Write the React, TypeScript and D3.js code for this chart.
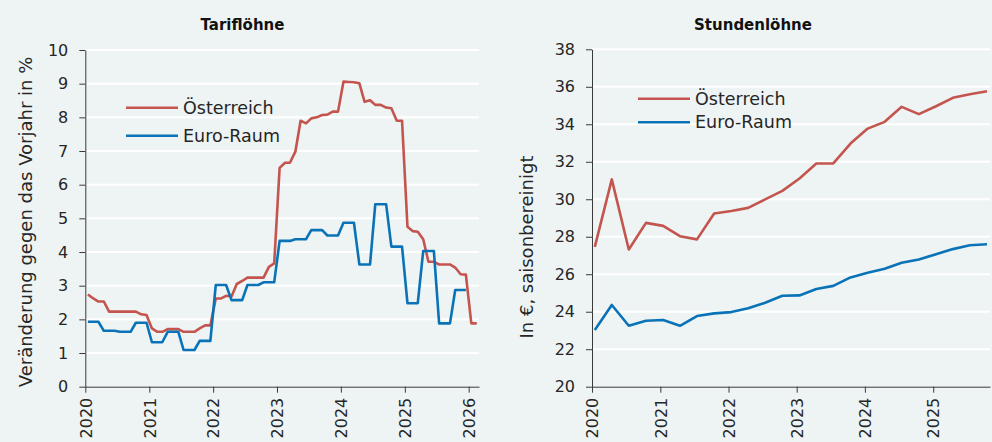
import React, { useEffect, useRef } from 'react';
import * as d3 from 'd3';

// Tariflöhne, Veränderung gegen das Vorjahr in %, monatlich ab Jänner 2020
const tarifAT = [
  2.74, 2.62, 2.53, 2.53, 2.23, 2.23, 2.23, 2.23, 2.23, 2.23, 2.15, 2.13,
  1.73, 1.63, 1.63, 1.71, 1.71, 1.71, 1.63, 1.63, 1.63, 1.73, 1.82, 1.82,
  2.62, 2.62, 2.70, 2.68, 3.05, 3.14, 3.24, 3.24, 3.24, 3.24, 3.56, 3.66,
  6.50, 6.65, 6.65, 6.98, 7.90, 7.82, 7.97, 8.00, 8.07, 8.08, 8.17, 8.17,
  9.06, 9.05, 9.04, 9.01, 8.46, 8.51, 8.37, 8.37, 8.29, 8.27, 7.90, 7.90,
  4.75, 4.62, 4.60, 4.38, 3.71, 3.71, 3.63, 3.63, 3.63, 3.54, 3.34, 3.33,
  1.88, 1.88,
];
// Euro-Raum, quartalsweise (wird je 3 Monate gehalten)
const tarifEA = [
  1.93, 1.66, 1.63, 1.90,
  1.32, 1.63, 1.09, 1.36,
  3.02, 2.57, 3.02, 3.10,
  4.33, 4.38, 4.65, 4.49,
  4.87, 3.63, 5.42, 4.16,
  2.48, 4.03, 1.88, 2.87,
];
const tarifTicks = [0, 1, 2, 3, 4, 5, 6, 7, 8, 9, 10];

// Stundenlöhne in €, saisonbereinigt, Quartale 2020Q1-2025Q4
const stundeAT = [
  27.46, 31.06, 27.32, 28.74, 28.58, 28.03, 27.86, 29.24, 29.37, 29.54, 29.99, 30.45,
  31.11, 31.91, 31.91, 32.97, 33.77, 34.13, 34.93, 34.54, 34.96, 35.41, 35.60, 35.76,
];
const stundeEA = [
  23.02, 24.36, 23.25, 23.52, 23.56, 23.25, 23.77, 23.91, 23.98, 24.18, 24.48, 24.85,
  24.87, 25.21, 25.38, 25.83, 26.08, 26.29, 26.61, 26.79, 27.07, 27.34, 27.55, 27.60,
];
const stundeTicks = [20, 22, 24, 26, 28, 30, 32, 34, 36, 38];

const seriesNames = ['Österreich', 'Euro-Raum'];
const colors = ['#c4554e', '#0a73b7'];
const bg = '#eef4f4';
const font = 'DejaVu Sans, sans-serif';

type Pt = { d: Date; v: number };

const monthly = (vals: number[]): Pt[] => vals.map((v, m) => ({ d: new Date(2020, m, 16), v }));
const heldQuarters = (vals: number[]): Pt[] =>
  vals.flatMap((v, q) => [0, 1, 2].map((k) => ({ d: new Date(2020, q * 3 + k, 16), v })));
const quarterly = (vals: number[]): Pt[] => vals.map((v, q) => ({ d: new Date(2020, q * 3, 16), v }));

function drawPanel(svg: any, cfg: any) {
  const { left, right, top, bottom, xEnd, yDomain, ticks, series, title, titleX, ylabel, ylabelX, ylabelY, legend } = cfg;
  const g = svg.append('g');

  const x = d3.scaleTime().domain([new Date(2020, 0, 1), xEnd]).range([left, right]);
  const y = d3.scaleLinear().domain(yDomain).range([bottom, top]);

  // gridlines
  g.append('g')
    .selectAll('line')
    .data(ticks.slice(1))
    .enter().append('line')
    .attr('x1', left).attr('x2', right)
    .attr('y1', (d: number) => y(d)).attr('y2', (d: number) => y(d))
    .attr('stroke', '#ffffff').attr('stroke-width', 2);

  // lines
  const line = d3.line<Pt>().x((p) => x(p.d)).y((p) => y(p.v));
  series.forEach((s: Pt[], i: number) => {
    g.append('path')
      .datum(s)
      .attr('d', line)
      .attr('fill', 'none')
      .attr('stroke', colors[i])
      .attr('stroke-width', 2.6)
      .attr('stroke-linejoin', 'round');
  });

  // y axis
  const ya = g.append('g')
    .attr('transform', `translate(${left},0)`)
    .call(d3.axisLeft(y).tickValues(ticks).tickSize(6).tickSizeOuter(0).tickPadding(11).tickFormat(d3.format('d')));
  // x axis
  const xa = g.append('g')
    .attr('transform', `translate(0,${bottom})`)
    .call(d3.axisBottom(x).ticks(d3.timeYear.every(1)).tickSize(6).tickSizeOuter(0).tickFormat(d3.timeFormat('%Y') as any));
  xa.selectAll('text')
    .attr('transform', 'rotate(-90)')
    .attr('x', -11)
    .attr('y', 0)
    .attr('dy', '0.36em')
    .style('text-anchor', 'end');

  [ya, xa].forEach((a) => {
    a.selectAll('path, line').attr('stroke', '#3a3a3a');
    a.selectAll('text').attr('font-family', font).attr('font-size', 16).attr('fill', '#262626');
  });

  // title
  g.append('text')
    .attr('x', titleX).attr('y', 30)
    .attr('text-anchor', 'middle')
    .attr('font-family', font).attr('font-weight', 'bold').attr('font-size', 15)
    .attr('fill', '#111')
    .text(title);

  // y label
  g.append('text')
    .attr('transform', `translate(${ylabelX},${ylabelY}) rotate(-90)`)
    .attr('text-anchor', 'middle')
    .attr('dominant-baseline', 'central')
    .attr('font-family', font).attr('font-size', 18)
    .attr('fill', '#262626')
    .text(ylabel);

  // legend
  seriesNames.forEach((name, i) => {
    const ly = legend.y + i * legend.gap;
    g.append('line')
      .attr('x1', legend.x).attr('x2', legend.x + 52)
      .attr('y1', ly).attr('y2', ly)
      .attr('stroke', colors[i]).attr('stroke-width', 2.6);
    g.append('text')
      .attr('x', legend.x + 57).attr('y', ly)
      .attr('dominant-baseline', 'central')
      .attr('font-family', font).attr('font-size', 17.5)
      .attr('fill', '#262626')
      .text(name);
  });
}

export default function App() {
  const ref = useRef<SVGSVGElement>(null);

  useEffect(() => {
    const svg = d3.select(ref.current);
    svg.selectAll('*').remove();
    svg.append('rect').attr('width', 992).attr('height', 442).attr('fill', bg);

    drawPanel(svg, {
      left: 85.3, right: 479, top: 50, bottom: 386.7,
      xEnd: new Date(2026, 2, 1),
      yDomain: [0, 10], ticks: tarifTicks,
      series: [monthly(tarifAT), heldQuarters(tarifEA)],
      title: 'Tariflöhne', titleX: 242.5,
      ylabel: 'Veränderung gegen das Vorjahr in %', ylabelX: 25, ylabelY: 222,
      legend: { x: 126, y: 107.7, gap: 28 },
    });

    drawPanel(svg, {
      left: 592, right: 990, top: 49.3, bottom: 386.7,
      xEnd: new Date(2025, 10, 1),
      yDomain: [20, 38], ticks: stundeTicks,
      series: [quarterly(stundeAT), quarterly(stundeEA)],
      title: 'Stundenlöhne', titleX: 753,
      ylabel: 'In €, saisonbereinigt', ylabelX: 526, ylabelY: 247,
      legend: { x: 638, y: 98.7, gap: 23.6 },
    });
  }, []);

  return (
    <svg
      ref={ref}
      width={992}
      height={442}
      style={{ position: 'absolute', left: 0, top: 0, display: 'block' }}
    />
  );
}
